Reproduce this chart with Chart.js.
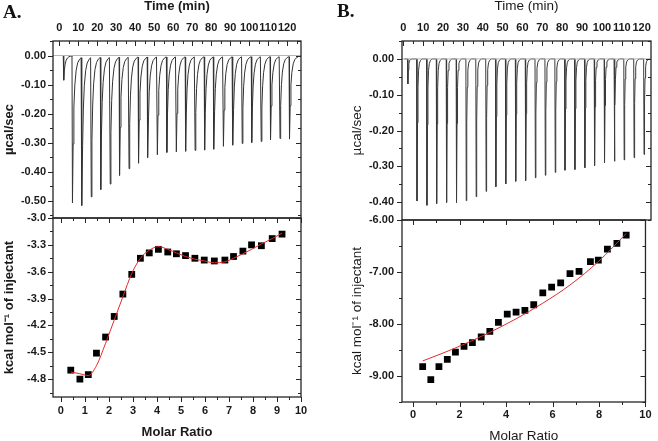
<!DOCTYPE html>
<html>
<head>
<meta charset="utf-8">
<script src="https://cdn.jsdelivr.net/npm/chart.js@4.4.1/dist/chart.umd.min.js"></script>
<style>
  body { margin: 0; background: #fff; }
  #wrap { position: relative; width: 658px; height: 441px; background: #fff; }
  #wrap canvas { position: absolute; left: 0; top: 0; }
  .tag { position: absolute; font: bold 19px "Liberation Serif", "Times New Roman", serif; line-height: 19px; color: #111; }
</style>
</head>
<body>
<div id="wrap">
  <canvas id="aTop" width="658" height="441"></canvas>
  <canvas id="aBottom" width="658" height="441"></canvas>
  <canvas id="bTop" width="658" height="441"></canvas>
  <canvas id="bBottom" width="658" height="441"></canvas>
  <div class="tag" style="left:3px;top:2px">A.</div>
  <div class="tag" style="left:337px;top:1px">B.</div>
</div>
<script>
// injection times (min), same protocol for both runs
const injectionTimes = [2.1, 6.7, 11.7, 16.6, 21.6, 26.6, 31.5, 36.5, 41.5, 46.4, 51.4, 56.4, 61.4,
  66.3, 71.3, 76.3, 81.2, 86.2, 91.2, 96.1, 101.1, 106.1, 111.0, 116.0, 121.0];

// peak depth of each injection (µcal/sec)
const peaksA = [-0.085, -0.508, -0.517, -0.487, -0.462, -0.443, -0.413, -0.390, -0.371, -0.352, -0.342,
  -0.334, -0.332, -0.330, -0.327, -0.326, -0.323, -0.313, -0.309, -0.303, -0.300, -0.296, -0.290, -0.286, -0.288];
const peaksB = [-0.070, -0.397, -0.409, -0.404, -0.401, -0.401, -0.396, -0.385, -0.370, -0.357, -0.349,
  -0.342, -0.340, -0.332, -0.325, -0.317, -0.311, -0.309, -0.304, -0.298, -0.290, -0.286, -0.282, -0.276, -0.267];

// shape of one peak: minutes after injection / fraction of peak
const recoveryOffsetsA = [0, 0.25, 0.6, 1.0, 1.5, 2.2, 3.0, 4.0, 4.8];
const recoveryFracA = [0, 1, 0.6, 0.35, 0.2, 0.1, 0.05, 0.025, 0.015];
const recoveryOffsetsB = [0, 0.2, 0.45, 0.7, 1.0, 1.4, 2.0, 2.8];
const recoveryFracB = [0, 1, 0.45, 0.2, 0.08, 0.03, 0.01, 0];

// integrated heats
const molarA = [0.41, 0.79, 1.14, 1.48, 1.86, 2.22, 2.58, 2.95, 3.31, 3.68, 4.06, 4.45,
  4.81, 5.19, 5.58, 5.97, 6.39, 6.83, 7.19, 7.58, 7.94, 8.35, 8.80, 9.21];
const heatA = [-4.70, -4.80, -4.75, -4.51, -4.33, -4.10, -3.85, -3.63, -3.45, -3.39, -3.35, -3.38,
  -3.40, -3.42, -3.45, -3.47, -3.48, -3.47, -3.43, -3.37, -3.30, -3.31, -3.23, -3.18];
const fitHeatA = [-4.72, -4.74, -4.76, -4.65, -4.40, -4.14, -3.88, -3.62, -3.45, -3.36, -3.32, -3.35,
  -3.39, -3.43, -3.46, -3.48, -3.50, -3.49, -3.45, -3.40, -3.35, -3.29, -3.23, -3.17];

const molarB = [0.41, 0.76, 1.11, 1.47, 1.82, 2.19, 2.55, 2.93, 3.30, 3.67, 4.05, 4.43,
  4.81, 5.19, 5.58, 5.96, 6.35, 6.75, 7.14, 7.63, 7.97, 8.36, 8.77, 9.17];
const heatB = [-8.82, -9.07, -8.82, -8.68, -8.54, -8.43, -8.36, -8.25, -8.14, -7.97, -7.81, -7.77,
  -7.74, -7.63, -7.40, -7.29, -7.21, -7.03, -6.99, -6.80, -6.77, -6.56, -6.45, -6.29];
const fitMolarB = [0.41, 1.11, 2.19, 3.30, 4.43, 5.58, 6.75, 7.97, 9.17];
const fitHeatB = [-8.71, -8.59, -8.39, -8.16, -7.90, -7.60, -7.25, -6.80, -6.26];

// tick labels
const timeTicks = [0, 10, 20, 30, 40, 50, 60, 70, 80, 90, 100, 110, 120];
const powerTicksA = [0, -0.1, -0.2, -0.3, -0.4, -0.5];
const heatTicksA = [-3.0, -3.3, -3.6, -3.9, -4.2, -4.5, -4.8];
const ratioTicksA = [0, 1, 2, 3, 4, 5, 6, 7, 8, 9, 10];
const powerTicksB = [0, -0.1, -0.2, -0.3, -0.4];
const heatTicksB = [-6, -7, -8, -9];
const ratioTicksB = [0, 2, 4, 6, 8, 10];

function thermogram(times, peaks, offs, fracs) {
  const pts = [{ x: 0.5, y: 0 }];
  times.forEach((t, i) => {
    const before = i === 0 ? 0 : peaks[i - 1] * fracs[fracs.length - 1];
    pts.push({ x: t, y: before });
    for (let k = 1; k < offs.length; k++) pts.push({ x: t + offs[k], y: peaks[i] * fracs[k] });
  });
  return pts;
}
const pairs = (xs, ys) => xs.map((x, i) => ({ x, y: ys[i] }));

// frame round the plot plus small tick marks on every side
const frameTicks = {
  id: 'frameTicks',
  afterDraw(chart, args, opts) {
    const { ctx, chartArea: a } = chart;
    ctx.save();
    ctx.strokeStyle = '#262626';
    ctx.lineWidth = 1.3;
    ctx.strokeRect(a.left, a.top, a.right - a.left, a.bottom - a.top);
    ctx.lineWidth = 1;
    ctx.beginPath();
    for (const s of opts.sides || []) {
      const sc = chart.scales[s.axis];
      const major = sc.ticks.map(t => t.value);
      const half = (major[1] - major[0]) / 2;
      const minor = major.map(v => v + half).concat([major[0] - half]);
      const lo = Math.min(sc.min, sc.max) - 1e-9, hi = Math.max(sc.min, sc.max) + 1e-9;
      const marks = major.map(v => [v, 5]).concat(minor.map(v => [v, 3])).filter(m => m[0] >= lo && m[0] <= hi);
      for (const [v, len] of marks) {
        const p = Math.round(sc.getPixelForValue(v)) + 0.5;
        const L = s.inward ? len : -len;
        if (s.side === 'top') { ctx.moveTo(p, a.top); ctx.lineTo(p, a.top + L); }
        if (s.side === 'bottom') { ctx.moveTo(p, a.bottom); ctx.lineTo(p, a.bottom - L); }
        if (s.side === 'left') { ctx.moveTo(a.left, p); ctx.lineTo(a.left + L, p); }
        if (s.side === 'right') { ctx.moveTo(a.right, p); ctx.lineTo(a.right - L, p); }
      }
    }
    ctx.stroke();
    ctx.restore();
  }
};

const FAMILY = '"Liberation Sans", Arial, sans-serif';
const tickFont = { family: FAMILY, size: 11, weight: 'bold' };

function axis(o) {
  return {
    type: 'linear', position: o.position, min: o.min, max: o.max,
    afterBuildTicks: s => { s.ticks = o.ticks.map(v => ({ value: v })); },
    afterFit: s => { if (o.width) s.width = o.width; if (o.height) s.height = o.height; },
    grid: { display: false, drawTicks: false },
    border: { display: false },
    ticks: { font: tickFont, color: '#1a1a1a', padding: o.pad, autoSkip: false, maxRotation: 0, minRotation: 0,
      callback: v => (o.dec === undefined ? String(v) : (Math.abs(v) < 1e-9 ? 0 : v).toFixed(o.dec)) },
    title: { display: true, text: o.title, color: '#1a1a1a', padding: 0,
      font: { family: FAMILY, size: o.titleSize, weight: o.bold ? 'bold' : 'normal', lineHeight: o.lh || 1.2 } }
  };
}

function panel(id, o) {
  return new Chart(document.getElementById(id), {
    data: { datasets: o.datasets },
    options: {
      responsive: false, animation: false, devicePixelRatio: 1,
      layout: { padding: o.padding },
      plugins: { legend: { display: false }, tooltip: { enabled: false }, frameTicks: { sides: o.sides } },
      scales: { x: o.x, y: o.y }
    },
    plugins: [frameTicks]
  });
}

const traceStyle = { type: 'line', pointRadius: 0, borderWidth: 1, tension: 0 };
const squares = { type: 'scatter', pointStyle: 'rect', pointRadius: 4.8, backgroundColor: '#000', borderWidth: 0 };
const fitStyle = { type: 'line', pointRadius: 0, borderWidth: 1, borderColor: '#e32a2a', cubicInterpolationMode: 'monotone' };
const topSides = [{ axis: 'x', side: 'top', inward: true }, { axis: 'y', side: 'left', inward: false }, { axis: 'y', side: 'right', inward: true }];
const bottomSides = [{ axis: 'x', side: 'top', inward: true }, { axis: 'x', side: 'bottom', inward: false },
  { axis: 'y', side: 'left', inward: false }, { axis: 'y', side: 'right', inward: true }];

// ---- A ----
panel('aTop', {
  padding: { left: 2, top: 0, right: 357, bottom: 223 },
  sides: topSides,
  datasets: [
    { ...traceStyle, data: [{ x: -3.3, y: 0 }, { x: 127.3, y: 0 }], borderColor: '#b5b5b5' },
    { ...traceStyle, data: thermogram(injectionTimes, peaksA, recoveryOffsetsA, recoveryFracA), borderColor: '#333' }
  ],
  x: axis({ position: 'top', min: -3.3, max: 127.3, ticks: timeTicks, height: 41, pad: 6, title: 'Time (min)', titleSize: 13, bold: true, lh: 1 }),
  y: axis({ position: 'left', min: -0.56, max: 0.05, ticks: powerTicksA, width: 51, pad: 7, dec: 2, title: 'µcal/sec', titleSize: 13, bold: true })
});
panel('aBottom', {
  padding: { left: 2, top: 218, right: 357, bottom: 2.5 },
  sides: bottomSides,
  datasets: [
    { ...fitStyle, data: pairs(molarA, fitHeatA) },
    { ...squares, data: pairs(molarA, heatA) }
  ],
  x: axis({ position: 'bottom', min: -0.33, max: 10, ticks: ratioTicksA, height: 41.5, pad: 7, title: 'Molar Ratio', titleSize: 13, bold: true, lh: 1 }),
  y: axis({ position: 'left', min: -5.0, max: -3.0, ticks: heatTicksA, width: 51, pad: 7, dec: 1, title: 'kcal mol⁻¹ of injectant', titleSize: 13, bold: true })
});

// ---- B ----
panel('bTop', {
  padding: { left: 349, top: 0, right: 7, bottom: 221 },
  sides: topSides,
  datasets: [
    { ...traceStyle, data: [{ x: -0.65, y: 0 }, { x: 124.7, y: 0 }], borderColor: '#b5b5b5' },
    { ...traceStyle, data: thermogram(injectionTimes, peaksB, recoveryOffsetsB, recoveryFracB), borderColor: '#3a3a3a' }
  ],
  x: axis({ position: 'top', min: -0.65, max: 124.7, ticks: timeTicks, height: 41, pad: 6, title: 'Time (min)', titleSize: 13.5, bold: false, lh: 1 }),
  y: axis({ position: 'left', min: -0.45, max: 0.05, ticks: powerTicksB, width: 53, pad: 8, dec: 2, title: 'µcal/sec', titleSize: 13.5, bold: false })
});
panel('bBottom', {
  padding: { left: 349, top: 220, right: 7, bottom: 0 },
  sides: bottomSides,
  datasets: [
    { ...fitStyle, data: pairs(fitMolarB, fitHeatB) },
    { ...squares, data: pairs(molarB, heatB) }
  ],
  x: axis({ position: 'bottom', min: -0.48, max: 10, ticks: ratioTicksB, height: 39, pad: 6.4, title: 'Molar Ratio', titleSize: 13.5, bold: false, lh: 0.7 }),
  y: axis({ position: 'left', min: -9.5, max: -6.0, ticks: heatTicksB, width: 53, pad: 8, dec: 2, title: 'kcal mol⁻¹ of injectant', titleSize: 13.5, bold: false })
});
</script>
</body>
</html>
